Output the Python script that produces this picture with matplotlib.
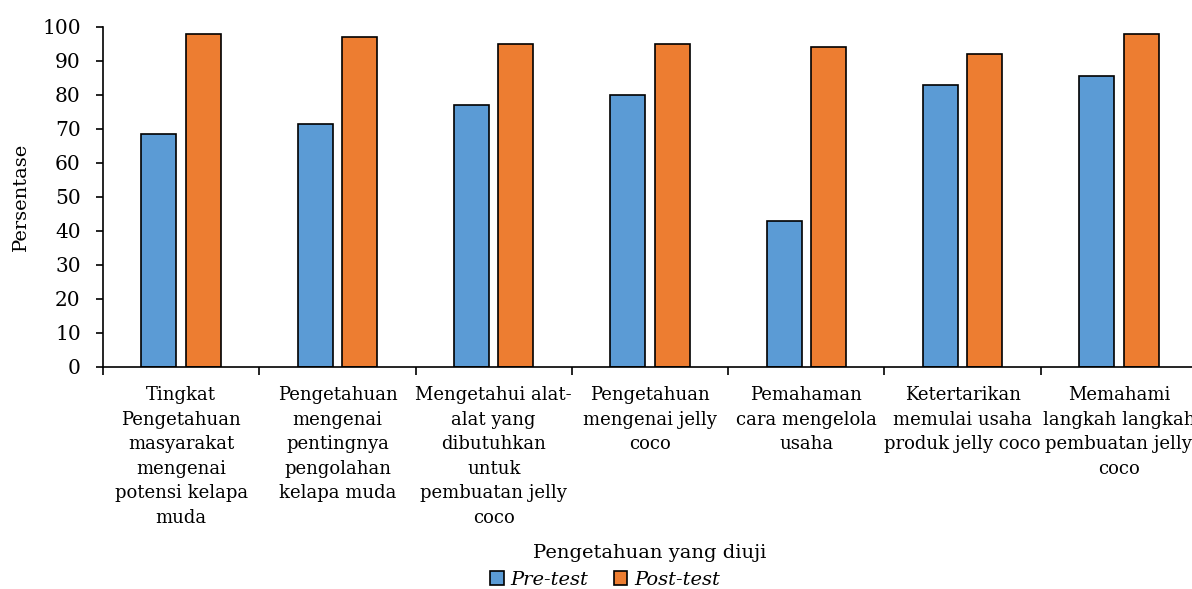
import matplotlib
matplotlib.use("Agg")
import matplotlib.pyplot as plt
import numpy as np
from matplotlib.ticker import FixedLocator

categories = [
    "Tingkat\nPengetahuan\nmasyarakat\nmengenai\npotensi kelapa\nmuda",
    "Pengetahuan\nmengenai\npentingnya\npengolahan\nkelapa muda",
    "Mengetahui alat-\nalat yang\ndibutuhkan\nuntuk\npembuatan jelly\ncoco",
    "Pengetahuan\nmengenai jelly\ncoco",
    "Pemahaman\ncara mengelola\nusaha",
    "Ketertarikan\nmemulai usaha\nproduk jelly coco",
    "Memahami\nlangkah langkah\npembuatan jelly\ncoco",
]
pre_test = [68.5, 71.4, 77.1, 80.0, 42.9, 82.8, 85.6]
post_test = [98, 97, 95, 95, 94, 92, 98]
series_names = ["Pre-test", "Post-test"]
colors = ["#5B9BD5", "#ED7D31"]

plt.rcParams['font.family'] = ['DejaVu Serif']
fs = 13

fig = plt.figure(figsize=(11.92, 5.89), dpi=100)
ax = fig.add_axes([103/1192, 1-367/589, (1197-103)/1192, (367-26.7)/589])

x = np.arange(len(categories))
w = 0.224
off = 0.142
ax.bar(x - off, pre_test, w, color=colors[0], edgecolor='black', linewidth=1.2, label=series_names[0])
ax.bar(x + off, post_test, w, color=colors[1], edgecolor='black', linewidth=1.2, label=series_names[1])

ax.set_xlim(-0.5, len(categories) - 0.5)
ax.set_ylim(0, 100)
ax.set_yticks(range(0, 101, 10))
ax.tick_params(axis='y', labelsize=14.5, direction='out', length=5, width=1.2, pad=11)
ax.set_xticks(x)
ax.set_xticklabels(categories, fontsize=fs, linespacing=1.46)
ax.tick_params(axis='x', which='major', length=0, pad=14)
ax.xaxis.set_minor_locator(FixedLocator(np.arange(-0.5, len(categories), 1)))
ax.tick_params(axis='x', which='minor', length=6, width=1.2, direction='out')

for s in ['top', 'right']:
    ax.spines[s].set_visible(False)
ax.spines['left'].set_linewidth(1.2)
ax.spines['bottom'].set_linewidth(1.2)

ax.set_ylabel("Persentase", fontsize=14)
ax.yaxis.set_label_coords((30-103)/1094, 0.5)

fig.text(650/1192, 1-553/589, "Pengetahuan yang diuji", fontsize=fs+1, ha='center', va='center')

leg = fig.legend(loc='center', bbox_to_anchor=(605/1192, 1-580/589), ncol=2, frameon=False,
                 prop={'style': 'italic', 'size': fs+1}, handlelength=0.7, handleheight=0.7,
                 handletextpad=0.35, columnspacing=1.3)

fig.savefig("out.png", dpi=100)
